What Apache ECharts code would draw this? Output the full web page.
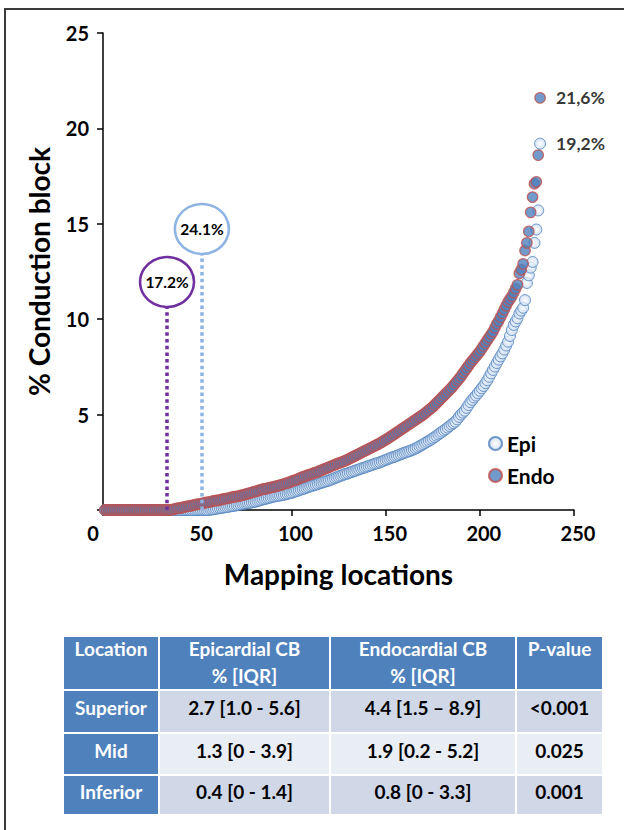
<!DOCTYPE html>
<html><head><meta charset="utf-8">
<script src="https://cdn.jsdelivr.net/npm/echarts/dist/echarts.min.js"></script>
<style>html,body{margin:0;padding:0;background:#fff}#c{width:624px;height:830px}</style>
</head><body><div id="c"></div>
<script>
// ---- data ----
const seriesNames = ['Epi', 'Endo'];
const epiValues = [
0,0,0,0,0,0,0,0,0,0, 0,0,0,0,0,0,0,0,0,0, 0,0,0,0,0,0,0,0,0,0,
0,0,0,0,0,0,0,0,0,0, 0,0,0,0,0,0,0,0,0,0, 0,0,0,0,0,0,
0.02,0.03,0.05,0.06,
0.08,0.1,0.11,0.13,0.15,0.16,0.18,0.2,0.21,0.23,
0.25,0.27,0.29,0.31,0.33,0.35,0.36,0.38,0.4,0.42,
0.44,0.47,0.5,0.53,0.56,0.58,0.61,0.63,0.66,0.69,
0.71,0.73,0.75,0.76,0.78,0.8,0.83,0.85,0.88,0.9,
0.93,0.97,1.0,1.03,1.07,1.1,1.13,1.17,1.2,1.24,
1.27,1.3,1.33,1.36,1.4,1.43,1.46,1.49,1.52,1.55,
1.59,1.63,1.67,1.71,1.75,1.79,1.82,1.86,1.89,1.92,
1.96,1.99,2.03,2.06,2.1,2.13,2.17,2.2,2.23,2.27,
2.3,2.34,2.37,2.41,2.44,2.47,2.5,2.54,2.58,2.62,
2.66,2.7,2.74,2.77,2.8,2.84,2.88,2.92,2.96,3.0,
3.03,3.07,3.1,3.14,3.18,3.23,3.28,3.34,3.39,3.45,
3.51,3.57,3.63,3.69,3.75,3.82,3.89,3.96,4.03,4.1,
4.17,4.24,4.32,4.4,4.48,4.55,4.63,4.75,4.88,5.0,
5.1,5.2,5.35,5.5,5.65,5.77,5.9,6.0,6.12,6.25,
6.38,6.5,6.65,6.8,6.98,7.16,7.34,7.52,7.7,7.88,
8.05,8.21,8.41,8.62,8.82,9.12,9.43,9.7,9.88,10.05,
10.3,10.45,10.6,11.0,11.9,12.3,12.7,13.0,14.0,14.7,15.7,19.2
];
const endoValues = [
0,0,0,0,0,0,0,0,0,0, 0,0,0,0,0,0,0,0,0,0, 0,0,0,0,0,0,0,0,0,0, 0,0,0,0,0,0,
0.03,0.05,0.08,0.1,0.1,0.13,0.15,0.18,0.2,0.2,0.23,0.26,0.28,0.3,
0.31,0.33,0.35,0.38,0.4,0.41,0.43,0.46,0.48,0.5,
0.5,0.53,0.55,0.58,0.6,0.61,0.63,0.66,0.68,0.7,
0.71,0.73,0.76,0.78,0.8,0.84,0.86,0.9,0.92,0.95,
0.98,1.0,1.04,1.07,1.1,1.11,1.13,1.16,1.18,1.2,
1.22,1.25,1.28,1.3,1.33,1.36,1.4,1.42,1.46,1.5,
1.54,1.57,1.6,1.64,1.7,1.73,1.76,1.8,1.84,1.87,
1.9,1.94,1.97,2.0,2.05,2.09,2.13,2.17,2.2,2.25,
2.29,2.33,2.37,2.41,2.45,2.48,2.52,2.56,2.6,2.65,
2.7,2.75,2.8,2.85,2.9,2.95,3.0,3.05,3.1,3.15,
3.2,3.25,3.3,3.35,3.4,3.45,3.5,3.56,3.62,3.68,
3.74,3.8,3.87,3.93,4.0,4.07,4.13,4.2,4.27,4.33,
4.4,4.47,4.53,4.6,4.67,4.73,4.8,4.87,4.93,5.0,
5.08,5.16,5.24,5.32,5.4,5.5,5.6,5.7,5.8,5.9,
6.0,6.1,6.2,6.3,6.4,6.52,6.64,6.76,6.88,7.0,
7.15,7.28,7.42,7.56,7.7,7.82,7.94,8.06,8.18,8.3,
8.45,8.6,8.75,8.9,9.05,9.2,9.35,9.55,9.75,9.9,
10.1,10.3,10.5,10.7,10.9,11.05,11.2,11.4,11.6,11.8,
12.4,12.6,12.9,13.6,14.0,14.6,15.6,16.4,17.1,17.2,18.6,21.6
];
const endLabels = ['19,2%', '21,6%'];
// zero-block annotations: [x position, circle centre y, line top y, text]
const epiZeroNote = [52.5, 14.73, 13.45, '24.1%'];
const endoZeroNote = [34, 11.95, 10.65, '17.2%'];
const xTicks = [0, 50, 100, 150, 200, 250];
const yTicks = [0, 5, 10, 15, 20, 25];
const tableHeader = ['Location', 'Epicardial CB\n% [IQR]', 'Endocardial CB\n% [IQR]', 'P-value'];
const tableLocations = ['Superior', 'Mid', 'Inferior'];
const tableEpi = ['2.7 [1.0 - 5.6]', '1.3 [0 - 3.9]', '0.4 [0 - 1.4]'];
const tableEndo = ['4.4 [1.5 \u2013 8.9]', '1.9 [0.2 - 5.2]', '0.8 [0 - 3.3]'];
const tablePvalues = ['<0.001', '0.025', '0.001'];

// ---- build ----
const FONT = 'Lato, "Open Sans", sans-serif';
function toData(vals, label) {
  return vals.map((v, i) => {
    const d = { value: [i + 1, v] };
    if (i === vals.length - 1) {
      d.label = { show: true, formatter: label, position: 'right', distance: 10,
        fontSize: 17.5, fontWeight: 'bold', color: '#000', fontFamily: FONT };
    }
    return d;
  });
}
function note(n, color) {
  return {
    markLine: { silent: true, symbol: 'none', animation: false,
      lineStyle: { color: color, width: 3.5, type: [3.5, 3.2], cap: 'butt' },
      label: { show: false },
      data: [[{ coord: [n[0], 0] }, { coord: [n[0], n[2]] }]] },
    markPoint: { silent: true, animation: false, symbol: 'circle', symbolSize: [54, 50],
      itemStyle: { color: '#fff', borderColor: color, borderWidth: 2.5 },
      label: { show: true, formatter: n[3], color: '#000', fontWeight: 'bold', fontSize: 15.5, fontFamily: FONT },
      data: [{ coord: [n[0], n[1]] }] }
  };
}

const colX = [63, 159, 330, 516, 603];
const rowY = [636, 690, 733, 775, 815];
const graphics = [];
graphics.push({ type: 'rect', shape: { x: 5, y: 9, width: 700, height: 900 },
  style: { fill: 'none', stroke: '#3a3a3a', lineWidth: 2 }, silent: true });
const bodyCols = [tableLocations, tableEpi, tableEndo, tablePvalues];
for (let c = 0; c < 4; c++) {
  const x0 = colX[c], x1 = colX[c + 1];
  graphics.push({ type: 'rect', shape: { x: x0 + 1, y: rowY[0] + 1, width: x1 - x0 - 2, height: rowY[1] - rowY[0] - 2 },
    style: { fill: '#4F81BD' }, silent: true });
  graphics.push({ type: 'text', x: (x0 + x1) / 2, y: rowY[0] - 1,
    style: { text: tableHeader[c], fill: '#fff', font: 'bold 19px ' + FONT, align: 'center', verticalAlign: 'top',
      textAlign: 'center', textVerticalAlign: 'top', lineHeight: 27 }, silent: true });
  for (let r = 0; r < 3; r++) {
    const y0 = rowY[r + 1], y1 = rowY[r + 2];
    const fill = c === 0 ? '#4F81BD' : (r === 1 ? '#E9EDF4' : '#D0D8E8');
    graphics.push({ type: 'rect', shape: { x: x0 + 1, y: y0 + 1, width: x1 - x0 - 2, height: y1 - y0 - 2 },
      style: { fill: fill }, silent: true });
    graphics.push({ type: 'text', x: (x0 + x1) / 2, y: (y0 + y1) / 2 - 4,
      style: { text: bodyCols[c][r], fill: c === 0 ? '#fff' : '#000', font: 'bold 19px ' + FONT,
        align: 'center', verticalAlign: 'middle', textAlign: 'center', textVerticalAlign: 'middle' }, silent: true });
  }
}

const chart = echarts.init(document.getElementById('c'), null, { renderer: 'svg' });
const axisTxt = { fontSize: 20, fontWeight: 'bold', color: '#000', fontFamily: FONT };
chart.setOption({
  animation: false,
  backgroundColor: '#fff',
  grid: { left: 103, right: 50, top: 33, bottom: 320, containLabel: false },
  xAxis: {
    type: 'value', min: xTicks[0], max: xTicks[xTicks.length - 1], interval: xTicks[1] - xTicks[0],
    name: 'Mapping locations', nameLocation: 'middle', nameGap: 50,
    nameTextStyle: { fontSize: 28, fontWeight: 'bold', color: '#000', fontFamily: FONT },
    axisLine: { show: true, onZero: false, lineStyle: { color: '#000', width: 1.5 } },
    axisTick: { show: true, inside: false, length: 6, lineStyle: { color: '#000', width: 1.5 } },
    splitLine: { show: false },
    axisLabel: Object.assign({ margin: 13,
      formatter: v => (v === 0 ? '{z|0}' : '{n|' + v + '}'),
      rich: { z: Object.assign({ padding: [0, 20, 0, 0] }, axisTxt), n: Object.assign({ padding: [0, 0, 0, 8] }, axisTxt) }
    }, axisTxt)
  },
  yAxis: {
    type: 'value', min: yTicks[0], max: yTicks[yTicks.length - 1], interval: yTicks[1] - yTicks[0],
    name: '% Conduction block', nameLocation: 'middle', nameGap: 50,
    nameTextStyle: { fontSize: 28, fontWeight: 'bold', color: '#000', fontFamily: FONT },
    axisLine: { show: true, onZero: false, lineStyle: { color: '#000', width: 1.5 } },
    axisTick: { show: true, inside: false, length: 6, lineStyle: { color: '#000', width: 1.5 } },
    splitLine: { show: false },
    axisLabel: Object.assign({ margin: 14, formatter: v => (v === 0 ? '' : String(v)) }, axisTxt)
  },
  legend: {
    data: seriesNames, orient: 'vertical', left: 483, top: 428, itemGap: 11,
    itemWidth: 13, itemHeight: 13, icon: 'circle',
    textStyle: { fontSize: 21, fontWeight: 'bold', color: '#000', fontFamily: FONT }
  },
  series: [
    Object.assign({
      name: seriesNames[0], type: 'scatter', symbol: 'circle', symbolSize: 11,
      itemStyle: { color: { type: 'radial', x: 0.5, y: 0.5, r: 0.5,
        colorStops: [{ offset: 0, color: '#ffffff' }, { offset: 1, color: '#C9DAF0' }] },
        borderColor: '#4F81BD', borderWidth: 1 },
      data: toData(epiValues, endLabels[0])
    }, note(epiZeroNote, '#8DB4E2')),
    Object.assign({
      name: seriesNames[1], type: 'scatter', symbol: 'circle', symbolSize: 10.5,
      itemStyle: { color: '#4F81BD', borderColor: '#C0504D', borderWidth: 1.2 },
      data: toData(endoValues, endLabels[1])
    }, note(endoZeroNote, '#7030A0'))
  ],
  graphic: graphics
});
</script></body></html>
